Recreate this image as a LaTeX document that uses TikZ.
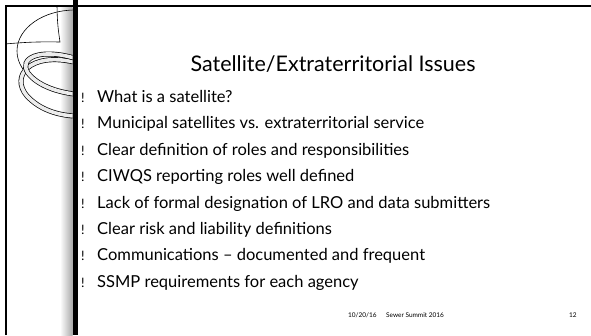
\documentclass[tikz,border=0pt]{standalone}
\usepackage{fontspec}
\setmainfont{Lato}
\usepackage{xcolor}
\usepackage{tikz}
\usetikzlibrary{positioning}

\tikzset{
  ringband/.style={draw=black, line width=0.7pt, double=gray!15, double distance=3.6pt},
  point/.style={anchor=west, inner sep=0pt, text height=12pt, text depth=3pt, font=\fontsize{16.5}{18}\selectfont},
  bang/.style={anchor=base west, inner sep=0pt, font=\fontsize{13}{15}\selectfont},
  footer/.style={anchor=west, inner sep=0pt, font=\fontsize{6.5}{7}\selectfont}
}

\begin{document}
\begin{tikzpicture}[x=1pt, y=-1pt, node distance=11pt]
    \useasboundingbox (0,0) rectangle (591,335);

    % left panel: rings and shadow
    \begin{scope}
        \clip (7,7) rectangle (72.5,335);
        \shade[left color=white, right color=gray!70] (60,0) rectangle (73,335);
        \draw[line width=0.6pt] (75,51) ellipse [x radius=58, y radius=41];
        \draw[line width=0.6pt] (5,44) to[bend left=3] (60,42) to[bend left=4] (57,5);
        \draw[ringband] (74,62) .. controls (30,52) and (10,76) .. (27,96) .. controls (40,110) and (58,115) .. (74,116);
        \draw[ringband] (74,58) .. controls (40,48) and (18,58) .. (28,73) .. controls (38,86) and (58,92) .. (74,94);
    \end{scope}

    % frame and bar
    \draw[line width=1.8pt] (6,335) -- (6,6) -- (591,6);
    \fill (73,0) rectangle (77.5,335);

    % title
    \node[inner sep=0pt, font=\fontsize{21.5}{24}\selectfont] (title) at (333,64) {Satellite/Extraterritorial Issues};

    % points
    \node[point] (p1) at (97,98) {What is a satellite?};
    \node[point, below=of p1.south west, anchor=north west] (p2) {Municipal satellites vs. extraterritorial service};
    \node[point, below=of p2.south west, anchor=north west] (p3) {Clear definition of roles and responsibilities};
    \node[point, below=of p3.south west, anchor=north west] (p4) {CIWQS reporting roles well defined};
    \node[point, below=of p4.south west, anchor=north west] (p5) {Lack of formal designation of LRO and data submitters};
    \node[point, below=of p5.south west, anchor=north west] (p6) {Clear risk and liability definitions};
    \node[point, below=of p6.south west, anchor=north west] (p7) {Communications -- documented and frequent};
    \node[point, below=of p7.south west, anchor=north west] (p8) {SSMP requirements for each agency};
    \foreach \i in {1,...,8}
        \node[bang] (b\i) at ([xshift=-16pt]p\i.base west) {!};

    % footer
    \node[footer] (date) at (348,315) {10/20/16};
    \node[footer, right=9pt of date] (event) {Sewer Summit 2016};
    \node[footer] (page) at (569,315) {12};
\end{tikzpicture}
\end{document}
